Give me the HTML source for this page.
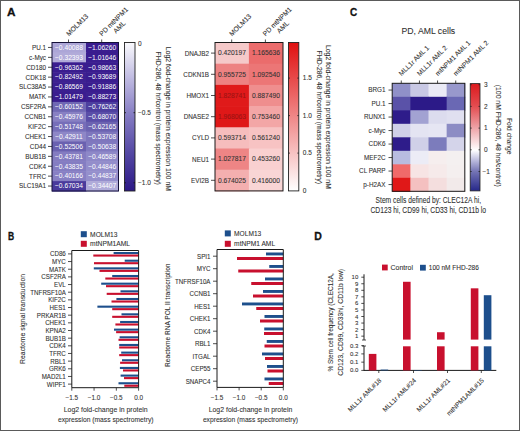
<!DOCTYPE html>
<html><head><meta charset="utf-8"><style>
html,body{margin:0;padding:0;background:#fff;}
body{width:520px;height:431px;overflow:hidden;font-family:"Liberation Sans", sans-serif;}
svg{display:block;}
</style></head><body>
<svg width="520" height="431" viewBox="0 0 520 431" font-family='"Liberation Sans", sans-serif'><rect x="0" y="0" width="520" height="431" fill="#fff"/><defs><linearGradient id="gA" x1="0" y1="0" x2="0" y2="1"><stop offset="0" stop-color="#fafafd"/><stop offset="0.25" stop-color="#bdb8e0"/><stop offset="0.5" stop-color="#8279c1"/><stop offset="0.75" stop-color="#5347a3"/><stop offset="1" stop-color="#2c1886"/></linearGradient><linearGradient id="gR" x1="0" y1="0" x2="0" y2="1"><stop offset="0" stop-color="#e01010"/><stop offset="1" stop-color="#ffffff"/></linearGradient><linearGradient id="gC" x1="0" y1="0" x2="0" y2="1"><stop offset="0" stop-color="#dc1a1e"/><stop offset="0.21" stop-color="#e34c50"/><stop offset="0.41" stop-color="#eea2a6"/><stop offset="0.62" stop-color="#ffffff"/><stop offset="0.72" stop-color="#b8b8dc"/><stop offset="0.82" stop-color="#7474b4"/><stop offset="1" stop-color="#26288a"/></linearGradient></defs><text transform="translate(7.1,16.4) rotate(0)" font-size="11" text-anchor="start" fill="#111" font-weight="bold" stroke="#111" stroke-width="0.3" textLength="8.5" lengthAdjust="spacingAndGlyphs">A</text><rect x="52.0" y="42.50" width="34.60" height="10.50" fill="#aca6d7"/><rect x="86.0" y="42.50" width="32.5" height="10.50" fill="#3a1d8f"/><text x="0" y="0" font-size="6.9" text-anchor="end" fill="#303030" stroke="#303030" stroke-width="0.08" font-weight="normal" transform="translate(46,49.85)  scale(0.92,1)">PU.1</text><line x1="48" y1="47.45" x2="52" y2="47.45" stroke="#222" stroke-width="0.8"/><text x="69.0" y="49.75" font-size="6.7" text-anchor="middle" fill="#fff" stroke="#fff" stroke-width="0" font-weight="normal">−0.40088</text><text x="102.25" y="49.75" font-size="6.7" text-anchor="middle" fill="#fff" stroke="#fff" stroke-width="0" font-weight="normal">−1.06260</text><rect x="52.0" y="52.40" width="34.60" height="10.50" fill="#b1abd9"/><rect x="86.0" y="52.40" width="32.5" height="10.50" fill="#3a1d8f"/><text x="0" y="0" font-size="6.9" text-anchor="end" fill="#303030" stroke="#303030" stroke-width="0.08" font-weight="normal" transform="translate(46,59.75)  scale(0.92,1)">c-Myc</text><line x1="48" y1="57.35" x2="52" y2="57.35" stroke="#222" stroke-width="0.8"/><text x="69.0" y="59.65" font-size="6.7" text-anchor="middle" fill="#fff" stroke="#fff" stroke-width="0" font-weight="normal">−0.32393</text><text x="102.25" y="59.65" font-size="6.7" text-anchor="middle" fill="#fff" stroke="#fff" stroke-width="0" font-weight="normal">−1.01646</text><rect x="52.0" y="62.30" width="34.60" height="10.50" fill="#3a1d8f"/><rect x="86.0" y="62.30" width="32.5" height="10.50" fill="#3a1d8f"/><text x="0" y="0" font-size="6.9" text-anchor="end" fill="#303030" stroke="#303030" stroke-width="0.08" font-weight="normal" transform="translate(46,69.65)  scale(0.92,1)">CD180</text><line x1="48" y1="67.25" x2="52" y2="67.25" stroke="#222" stroke-width="0.8"/><text x="69.0" y="69.55" font-size="6.7" text-anchor="middle" fill="#fff" stroke="#fff" stroke-width="0" font-weight="normal">−0.96362</text><text x="102.25" y="69.55" font-size="6.7" text-anchor="middle" fill="#fff" stroke="#fff" stroke-width="0" font-weight="normal">−0.98663</text><rect x="52.0" y="72.20" width="34.60" height="10.50" fill="#3d2191"/><rect x="86.0" y="72.20" width="32.5" height="10.50" fill="#3a1d8f"/><text x="0" y="0" font-size="6.9" text-anchor="end" fill="#303030" stroke="#303030" stroke-width="0.08" font-weight="normal" transform="translate(46,79.55000000000001)  scale(0.92,1)">CDK18</text><line x1="48" y1="77.15" x2="52" y2="77.15" stroke="#222" stroke-width="0.8"/><text x="69.0" y="79.45" font-size="6.7" text-anchor="middle" fill="#fff" stroke="#fff" stroke-width="0" font-weight="normal">−0.82492</text><text x="102.25" y="79.45" font-size="6.7" text-anchor="middle" fill="#fff" stroke="#fff" stroke-width="0" font-weight="normal">−0.93689</text><rect x="52.0" y="82.10" width="34.60" height="10.50" fill="#3b1f90"/><rect x="86.0" y="82.10" width="32.5" height="10.50" fill="#3a1d8f"/><text x="0" y="0" font-size="6.9" text-anchor="end" fill="#303030" stroke="#303030" stroke-width="0.08" font-weight="normal" transform="translate(46,89.45)  scale(0.92,1)">SLC38A5</text><line x1="48" y1="87.05" x2="52" y2="87.05" stroke="#222" stroke-width="0.8"/><text x="69.0" y="89.35" font-size="6.7" text-anchor="middle" fill="#fff" stroke="#fff" stroke-width="0" font-weight="normal">−0.86569</text><text x="102.25" y="89.35" font-size="6.7" text-anchor="middle" fill="#fff" stroke="#fff" stroke-width="0" font-weight="normal">−0.91886</text><rect x="52.0" y="92.00" width="34.60" height="10.50" fill="#3a1d8f"/><rect x="86.0" y="92.00" width="32.5" height="10.50" fill="#3d2191"/><text x="0" y="0" font-size="6.9" text-anchor="end" fill="#303030" stroke="#303030" stroke-width="0.08" font-weight="normal" transform="translate(46,99.35000000000001)  scale(0.92,1)">MATK</text><line x1="48" y1="96.95" x2="52" y2="96.95" stroke="#222" stroke-width="0.8"/><text x="69.0" y="99.25" font-size="6.7" text-anchor="middle" fill="#fff" stroke="#fff" stroke-width="0" font-weight="normal">−1.01479</text><text x="102.25" y="99.25" font-size="6.7" text-anchor="middle" fill="#fff" stroke="#fff" stroke-width="0" font-weight="normal">−0.88273</text><rect x="52.0" y="101.90" width="34.60" height="10.50" fill="#7068b4"/><rect x="86.0" y="101.90" width="32.5" height="10.50" fill="#4d3f9f"/><text x="0" y="0" font-size="6.9" text-anchor="end" fill="#303030" stroke="#303030" stroke-width="0.08" font-weight="normal" transform="translate(46,109.25000000000001)  scale(0.92,1)">CSF2RA</text><line x1="48" y1="106.85" x2="52" y2="106.85" stroke="#222" stroke-width="0.8"/><text x="69.0" y="109.15" font-size="6.7" text-anchor="middle" fill="#fff" stroke="#fff" stroke-width="0" font-weight="normal">−0.60152</text><text x="102.25" y="109.15" font-size="6.7" text-anchor="middle" fill="#fff" stroke="#fff" stroke-width="0" font-weight="normal">−0.76262</text><rect x="52.0" y="111.80" width="34.60" height="10.50" fill="#8880c3"/><rect x="86.0" y="111.80" width="32.5" height="10.50" fill="#5a4ea8"/><text x="0" y="0" font-size="6.9" text-anchor="end" fill="#303030" stroke="#303030" stroke-width="0.08" font-weight="normal" transform="translate(46,119.15)  scale(0.92,1)">CCNB1</text><line x1="48" y1="116.75" x2="52" y2="116.75" stroke="#222" stroke-width="0.8"/><text x="69.0" y="119.05" font-size="6.7" text-anchor="middle" fill="#fff" stroke="#fff" stroke-width="0" font-weight="normal">−0.45976</text><text x="102.25" y="119.05" font-size="6.7" text-anchor="middle" fill="#fff" stroke="#fff" stroke-width="0" font-weight="normal">−0.68070</text><rect x="52.0" y="121.70" width="34.60" height="10.50" fill="#766eb9"/><rect x="86.0" y="121.70" width="32.5" height="10.50" fill="#6c63b1"/><text x="0" y="0" font-size="6.9" text-anchor="end" fill="#303030" stroke="#303030" stroke-width="0.08" font-weight="normal" transform="translate(46,129.05)  scale(0.92,1)">KIF2C</text><line x1="48" y1="126.65" x2="52" y2="126.65" stroke="#222" stroke-width="0.8"/><text x="69.0" y="128.95000000000002" font-size="6.7" text-anchor="middle" fill="#fff" stroke="#fff" stroke-width="0" font-weight="normal">−0.51748</text><text x="102.25" y="128.95000000000002" font-size="6.7" text-anchor="middle" fill="#fff" stroke="#fff" stroke-width="0" font-weight="normal">−0.62165</text><rect x="52.0" y="131.60" width="34.60" height="10.50" fill="#8e87c7"/><rect x="86.0" y="131.60" width="32.5" height="10.50" fill="#7e76bd"/><text x="0" y="0" font-size="6.9" text-anchor="end" fill="#303030" stroke="#303030" stroke-width="0.08" font-weight="normal" transform="translate(46,138.95000000000002)  scale(0.92,1)">CHEK1</text><line x1="48" y1="136.55" x2="52" y2="136.55" stroke="#222" stroke-width="0.8"/><text x="69.0" y="138.85000000000002" font-size="6.7" text-anchor="middle" fill="#fff" stroke="#fff" stroke-width="0" font-weight="normal">−0.42911</text><text x="102.25" y="138.85000000000002" font-size="6.7" text-anchor="middle" fill="#fff" stroke="#fff" stroke-width="0" font-weight="normal">−0.53708</text><rect x="52.0" y="141.50" width="34.60" height="10.50" fill="#6a61b0"/><rect x="86.0" y="141.50" width="32.5" height="10.50" fill="#8079bf"/><text x="0" y="0" font-size="6.9" text-anchor="end" fill="#303030" stroke="#303030" stroke-width="0.08" font-weight="normal" transform="translate(46,148.85)  scale(0.92,1)">CD44</text><line x1="48" y1="146.45" x2="52" y2="146.45" stroke="#222" stroke-width="0.8"/><text x="69.0" y="148.75" font-size="6.7" text-anchor="middle" fill="#fff" stroke="#fff" stroke-width="0" font-weight="normal">−0.52506</text><text x="102.25" y="148.75" font-size="6.7" text-anchor="middle" fill="#fff" stroke="#fff" stroke-width="0" font-weight="normal">−0.50638</text><rect x="52.0" y="151.40" width="34.60" height="10.50" fill="#847cc1"/><rect x="86.0" y="151.40" width="32.5" height="10.50" fill="#8e88c8"/><text x="0" y="0" font-size="6.9" text-anchor="end" fill="#303030" stroke="#303030" stroke-width="0.08" font-weight="normal" transform="translate(46,158.75)  scale(0.92,1)">BUB1B</text><line x1="48" y1="156.35" x2="52" y2="156.35" stroke="#222" stroke-width="0.8"/><text x="69.0" y="158.65" font-size="6.7" text-anchor="middle" fill="#fff" stroke="#fff" stroke-width="0" font-weight="normal">−0.43781</text><text x="102.25" y="158.65" font-size="6.7" text-anchor="middle" fill="#fff" stroke="#fff" stroke-width="0" font-weight="normal">−0.46589</text><rect x="52.0" y="161.30" width="34.60" height="10.50" fill="#847dc2"/><rect x="86.0" y="161.30" width="32.5" height="10.50" fill="#938dcb"/><text x="0" y="0" font-size="6.9" text-anchor="end" fill="#303030" stroke="#303030" stroke-width="0.08" font-weight="normal" transform="translate(46,168.65)  scale(0.92,1)">CDK4</text><line x1="48" y1="166.25" x2="52" y2="166.25" stroke="#222" stroke-width="0.8"/><text x="69.0" y="168.55" font-size="6.7" text-anchor="middle" fill="#fff" stroke="#fff" stroke-width="0" font-weight="normal">−0.43835</text><text x="102.25" y="168.55" font-size="6.7" text-anchor="middle" fill="#fff" stroke="#fff" stroke-width="0" font-weight="normal">−0.44846</text><rect x="52.0" y="171.20" width="34.60" height="10.50" fill="#8880c4"/><rect x="86.0" y="171.20" width="32.5" height="10.50" fill="#958fcc"/><text x="0" y="0" font-size="6.9" text-anchor="end" fill="#303030" stroke="#303030" stroke-width="0.08" font-weight="normal" transform="translate(46,178.55)  scale(0.92,1)">TFRC</text><line x1="48" y1="176.15" x2="52" y2="176.15" stroke="#222" stroke-width="0.8"/><text x="69.0" y="178.45000000000002" font-size="6.7" text-anchor="middle" fill="#fff" stroke="#fff" stroke-width="0" font-weight="normal">−0.40166</text><text x="102.25" y="178.45000000000002" font-size="6.7" text-anchor="middle" fill="#fff" stroke="#fff" stroke-width="0" font-weight="normal">−0.44837</text><rect x="52.0" y="181.10" width="34.60" height="10.50" fill="#4a3a9c"/><rect x="86.0" y="181.10" width="32.5" height="10.50" fill="#b0abd9"/><text x="0" y="0" font-size="6.9" text-anchor="end" fill="#303030" stroke="#303030" stroke-width="0.08" font-weight="normal" transform="translate(46,188.45)  scale(0.92,1)">SLC19A1</text><line x1="48" y1="186.05" x2="52" y2="186.05" stroke="#222" stroke-width="0.8"/><text x="69.0" y="188.35" font-size="6.7" text-anchor="middle" fill="#fff" stroke="#fff" stroke-width="0" font-weight="normal">−0.67034</text><text x="102.25" y="188.35" font-size="6.7" text-anchor="middle" fill="#fff" stroke="#fff" stroke-width="0" font-weight="normal">−0.34407</text><rect x="52.0" y="42.5" width="66.5" height="148.5" fill="none" stroke="#15103a" stroke-width="1"/><line x1="68.5" y1="39.5" x2="68.5" y2="42.5" stroke="#222" stroke-width="0.8"/><line x1="101.7" y1="39.5" x2="101.7" y2="42.5" stroke="#222" stroke-width="0.8"/><text transform="translate(69.0,36.5) rotate(-45) scale(1.0,1)" font-size="6.8" text-anchor="start" fill="#303030" stroke="#303030" stroke-width="0.08">MOLM13</text><text transform="translate(102.0,36.5) rotate(-45) scale(1.0,1)" font-size="6.8" text-anchor="start" fill="#303030" stroke="#303030" stroke-width="0.08">PD mtNPM1</text><text transform="translate(116.0,33.8) rotate(-45) scale(1.0,1)" font-size="6.8" text-anchor="start" fill="#303030" stroke="#303030" stroke-width="0.08">AML</text><rect x="124.5" y="42.5" width="10.5" height="148.5" fill="url(#gA)" stroke="#222" stroke-width="0.9"/><text x="138.0" y="45.5" font-size="6.5" text-anchor="start" fill="#303030" stroke="#303030" stroke-width="0.08" font-weight="normal">0</text><text x="138.0" y="115.0" font-size="6.5" text-anchor="start" fill="#303030" stroke="#303030" stroke-width="0.08" font-weight="normal">−0.5</text><text x="138.0" y="185.1" font-size="6.5" text-anchor="start" fill="#303030" stroke="#303030" stroke-width="0.08" font-weight="normal">−1.0</text><line x1="124.5" y1="112.7" x2="126" y2="112.7" stroke="#111" stroke-width="0.8"/><line x1="133.5" y1="112.7" x2="135" y2="112.7" stroke="#111" stroke-width="0.8"/><line x1="124.5" y1="182.8" x2="126" y2="182.8" stroke="#111" stroke-width="0.8"/><line x1="133.5" y1="182.8" x2="135" y2="182.8" stroke="#111" stroke-width="0.8"/><text transform="translate(166.2,46.7) rotate(90)" font-size="7.5" text-anchor="start" fill="#303030" font-weight="normal" stroke="#303030" stroke-width="0.08" textLength="144.3" lengthAdjust="spacingAndGlyphs">Log2 fold-change in protein expression 100 nM</text><text transform="translate(156.1,51.6) rotate(90)" font-size="7.5" text-anchor="start" fill="#303030" font-weight="normal" stroke="#303030" stroke-width="0.08" textLength="133.3" lengthAdjust="spacingAndGlyphs">FHD-286, 48 hr/control (mass spectrometry)</text><rect x="215.0" y="42.50" width="34.50" height="21.80" fill="#f5c9c9"/><rect x="248.9" y="42.50" width="34.10" height="21.80" fill="#eb6c6c"/><text x="0" y="0" font-size="6.9" text-anchor="end" fill="#303030" stroke="#303030" stroke-width="0.08" font-weight="normal" transform="translate(209,55.5)  scale(0.92,1)">DNAJB2</text><line x1="211" y1="53.10" x2="215.0" y2="53.10" stroke="#222" stroke-width="0.8"/><text x="231.95" y="55.4" font-size="6.7" text-anchor="middle" fill="#333" stroke="#333" stroke-width="0.08" font-weight="normal">0.420197</text><text x="265.95" y="55.4" font-size="6.7" text-anchor="middle" fill="#333" stroke="#333" stroke-width="0.08" font-weight="normal">1.165636</text><rect x="215.0" y="63.70" width="34.50" height="21.80" fill="#ed8282"/><rect x="248.9" y="63.70" width="34.10" height="21.80" fill="#ec7676"/><text x="0" y="0" font-size="6.9" text-anchor="end" fill="#303030" stroke="#303030" stroke-width="0.08" font-weight="normal" transform="translate(209,76.7)  scale(0.92,1)">CDKN1B</text><line x1="211" y1="74.30" x2="215.0" y2="74.30" stroke="#222" stroke-width="0.8"/><text x="231.95" y="76.6" font-size="6.7" text-anchor="middle" fill="#333" stroke="#333" stroke-width="0.08" font-weight="normal">0.955725</text><text x="265.95" y="76.6" font-size="6.7" text-anchor="middle" fill="#333" stroke="#333" stroke-width="0.08" font-weight="normal">1.092540</text><rect x="215.0" y="84.90" width="34.50" height="21.80" fill="#e01a1a"/><rect x="248.9" y="84.90" width="34.10" height="21.80" fill="#ef8e8e"/><text x="0" y="0" font-size="6.9" text-anchor="end" fill="#303030" stroke="#303030" stroke-width="0.08" font-weight="normal" transform="translate(209,97.9)  scale(0.92,1)">HMOX1</text><line x1="211" y1="95.50" x2="215.0" y2="95.50" stroke="#222" stroke-width="0.8"/><text x="231.95" y="97.8" font-size="6.7" text-anchor="middle" fill="#9c1414" stroke="#9c1414" stroke-width="0.08" font-weight="normal">1.828741</text><text x="265.95" y="97.8" font-size="6.7" text-anchor="middle" fill="#333" stroke="#333" stroke-width="0.08" font-weight="normal">0.887490</text><rect x="215.0" y="106.10" width="34.50" height="21.80" fill="#df1818"/><rect x="248.9" y="106.10" width="34.10" height="21.80" fill="#f3a6a6"/><text x="0" y="0" font-size="6.9" text-anchor="end" fill="#303030" stroke="#303030" stroke-width="0.08" font-weight="normal" transform="translate(209,119.1)  scale(0.92,1)">DNASE2</text><line x1="211" y1="116.70" x2="215.0" y2="116.70" stroke="#222" stroke-width="0.8"/><text x="231.95" y="118.99999999999999" font-size="6.7" text-anchor="middle" fill="#9c1414" stroke="#9c1414" stroke-width="0.08" font-weight="normal">1.968063</text><text x="265.95" y="118.99999999999999" font-size="6.7" text-anchor="middle" fill="#333" stroke="#333" stroke-width="0.08" font-weight="normal">0.753460</text><rect x="215.0" y="127.30" width="34.50" height="21.80" fill="#f6bdbd"/><rect x="248.9" y="127.30" width="34.10" height="21.80" fill="#f7c3c3"/><text x="0" y="0" font-size="6.9" text-anchor="end" fill="#303030" stroke="#303030" stroke-width="0.08" font-weight="normal" transform="translate(209,140.3)  scale(0.92,1)">CYLD</text><line x1="211" y1="137.90" x2="215.0" y2="137.90" stroke="#222" stroke-width="0.8"/><text x="231.95" y="140.20000000000002" font-size="6.7" text-anchor="middle" fill="#333" stroke="#333" stroke-width="0.08" font-weight="normal">0.593714</text><text x="265.95" y="140.20000000000002" font-size="6.7" text-anchor="middle" fill="#333" stroke="#333" stroke-width="0.08" font-weight="normal">0.561240</text><rect x="215.0" y="148.50" width="34.50" height="21.80" fill="#ee8585"/><rect x="248.9" y="148.50" width="34.10" height="21.80" fill="#f9d0d0"/><text x="0" y="0" font-size="6.9" text-anchor="end" fill="#303030" stroke="#303030" stroke-width="0.08" font-weight="normal" transform="translate(209,161.5)  scale(0.92,1)">NEU1</text><line x1="211" y1="159.10" x2="215.0" y2="159.10" stroke="#222" stroke-width="0.8"/><text x="231.95" y="161.4" font-size="6.7" text-anchor="middle" fill="#333" stroke="#333" stroke-width="0.08" font-weight="normal">1.027817</text><text x="265.95" y="161.4" font-size="6.7" text-anchor="middle" fill="#333" stroke="#333" stroke-width="0.08" font-weight="normal">0.453260</text><rect x="215.0" y="169.70" width="34.50" height="21.80" fill="#f4afaf"/><rect x="248.9" y="169.70" width="34.10" height="21.80" fill="#f9d5d5"/><text x="0" y="0" font-size="6.9" text-anchor="end" fill="#303030" stroke="#303030" stroke-width="0.08" font-weight="normal" transform="translate(209,182.7)  scale(0.92,1)">EVI2B</text><line x1="211" y1="180.30" x2="215.0" y2="180.30" stroke="#222" stroke-width="0.8"/><text x="231.95" y="182.6" font-size="6.7" text-anchor="middle" fill="#333" stroke="#333" stroke-width="0.08" font-weight="normal">0.674025</text><text x="265.95" y="182.6" font-size="6.7" text-anchor="middle" fill="#333" stroke="#333" stroke-width="0.08" font-weight="normal">0.416000</text><rect x="215.0" y="42.5" width="68.00" height="148.40" fill="none" stroke="#1a1a1a" stroke-width="1"/><line x1="231.7" y1="39.5" x2="231.7" y2="42.5" stroke="#222" stroke-width="0.8"/><line x1="265.4" y1="39.5" x2="265.4" y2="42.5" stroke="#222" stroke-width="0.8"/><text transform="translate(232.0,36.5) rotate(-45) scale(1.0,1)" font-size="6.8" text-anchor="start" fill="#303030" stroke="#303030" stroke-width="0.08">MOLM13</text><text transform="translate(265.5,36.5) rotate(-45) scale(1.0,1)" font-size="6.8" text-anchor="start" fill="#303030" stroke="#303030" stroke-width="0.08">PD mtNPM1</text><text transform="translate(279.5,33.8) rotate(-45) scale(1.0,1)" font-size="6.8" text-anchor="start" fill="#303030" stroke="#303030" stroke-width="0.08">AML</text><rect x="288.5" y="42.5" width="10.3" height="148.40" fill="url(#gR)" stroke="#222" stroke-width="0.9"/><text x="302.8" y="80.39999999999999" font-size="6.5" text-anchor="start" fill="#303030" stroke="#303030" stroke-width="0.08" font-weight="normal">1.5</text><line x1="288.5" y1="78.10" x2="290" y2="78.10" stroke="#222" stroke-width="0.8"/><line x1="297.3" y1="78.10" x2="298.8" y2="78.10" stroke="#222" stroke-width="0.8"/><text x="302.8" y="117.89999999999999" font-size="6.5" text-anchor="start" fill="#303030" stroke="#303030" stroke-width="0.08" font-weight="normal">1.0</text><line x1="288.5" y1="115.60" x2="290" y2="115.60" stroke="#222" stroke-width="0.8"/><line x1="297.3" y1="115.60" x2="298.8" y2="115.60" stroke="#222" stroke-width="0.8"/><text x="302.8" y="155.4" font-size="6.5" text-anchor="start" fill="#303030" stroke="#303030" stroke-width="0.08" font-weight="normal">0.5</text><line x1="288.5" y1="153.10" x2="290" y2="153.10" stroke="#222" stroke-width="0.8"/><line x1="297.3" y1="153.10" x2="298.8" y2="153.10" stroke="#222" stroke-width="0.8"/><text x="302.8" y="192.9" font-size="6.5" text-anchor="start" fill="#303030" stroke="#303030" stroke-width="0.08" font-weight="normal">0</text><text transform="translate(326.3,44.9) rotate(90)" font-size="7.5" text-anchor="start" fill="#303030" font-weight="normal" stroke="#303030" stroke-width="0.08" textLength="144.0" lengthAdjust="spacingAndGlyphs">Log2 fold-change in protein expression 100 nM</text><text transform="translate(316.5,50.6) rotate(90)" font-size="7.5" text-anchor="start" fill="#303030" font-weight="normal" stroke="#303030" stroke-width="0.08" textLength="133.4" lengthAdjust="spacingAndGlyphs">FHD-286, 48 hr/control (mass spectrometry)</text><text transform="translate(350.0,16.4) rotate(0)" font-size="11" text-anchor="start" fill="#111" font-weight="bold" stroke="#111" stroke-width="0.3" textLength="7.2" lengthAdjust="spacingAndGlyphs">C</text><text transform="translate(401.5,33.8) rotate(0)" font-size="8.9" text-anchor="start" fill="#303030" font-weight="normal" stroke="#303030" stroke-width="0.08" textLength="53.7" lengthAdjust="spacingAndGlyphs">PD, AML cells</text><rect x="392.20" y="83.30" width="18.75" height="14.10" fill="#9090c8"/><rect x="410.35" y="83.30" width="18.75" height="14.10" fill="#c8c8e4"/><rect x="428.50" y="83.30" width="18.75" height="14.10" fill="#eaeaf5"/><rect x="446.65" y="83.30" width="18.75" height="14.10" fill="#9898cc"/><text x="0" y="0" font-size="6.9" text-anchor="end" fill="#303030" stroke="#303030" stroke-width="0.08" font-weight="normal" transform="translate(385.5,92.45)  scale(0.92,1)">BRG1</text><line x1="388.5" y1="90.05" x2="392.2" y2="90.05" stroke="#222" stroke-width="0.8"/><rect x="392.20" y="96.80" width="18.75" height="14.10" fill="#5a52a8"/><rect x="410.35" y="96.80" width="18.75" height="14.10" fill="#2c1a88"/><rect x="428.50" y="96.80" width="18.75" height="14.10" fill="#2c1a88"/><rect x="446.65" y="96.80" width="18.75" height="14.10" fill="#6a68b4"/><text x="0" y="0" font-size="6.9" text-anchor="end" fill="#303030" stroke="#303030" stroke-width="0.08" font-weight="normal" transform="translate(385.5,105.95)  scale(0.92,1)">PU.1</text><line x1="388.5" y1="103.55" x2="392.2" y2="103.55" stroke="#222" stroke-width="0.8"/><rect x="392.20" y="110.30" width="18.75" height="14.10" fill="#2e1c8a"/><rect x="410.35" y="110.30" width="18.75" height="14.10" fill="#a2a2d2"/><rect x="428.50" y="110.30" width="18.75" height="14.10" fill="#dcdcee"/><rect x="446.65" y="110.30" width="18.75" height="14.10" fill="#e0e0f0"/><text x="0" y="0" font-size="6.9" text-anchor="end" fill="#303030" stroke="#303030" stroke-width="0.08" font-weight="normal" transform="translate(385.5,119.45)  scale(0.92,1)">RUNX1</text><line x1="388.5" y1="117.05" x2="392.2" y2="117.05" stroke="#222" stroke-width="0.8"/><rect x="392.20" y="123.80" width="18.75" height="14.10" fill="#d0d0e8"/><rect x="410.35" y="123.80" width="18.75" height="14.10" fill="#e4e4f2"/><rect x="428.50" y="123.80" width="18.75" height="14.10" fill="#e6e6f3"/><rect x="446.65" y="123.80" width="18.75" height="14.10" fill="#8c8cc4"/><text x="0" y="0" font-size="6.9" text-anchor="end" fill="#303030" stroke="#303030" stroke-width="0.08" font-weight="normal" transform="translate(385.5,132.95000000000002)  scale(0.92,1)">c-Myc</text><line x1="388.5" y1="130.55" x2="392.2" y2="130.55" stroke="#222" stroke-width="0.8"/><rect x="392.20" y="137.30" width="18.75" height="14.10" fill="#2e1c8a"/><rect x="410.35" y="137.30" width="18.75" height="14.10" fill="#d0d0e8"/><rect x="428.50" y="137.30" width="18.75" height="14.10" fill="#7c7cbc"/><rect x="446.65" y="137.30" width="18.75" height="14.10" fill="#d4d4ea"/><text x="0" y="0" font-size="6.9" text-anchor="end" fill="#303030" stroke="#303030" stroke-width="0.08" font-weight="normal" transform="translate(385.5,146.45000000000002)  scale(0.92,1)">CDK6</text><line x1="388.5" y1="144.05" x2="392.2" y2="144.05" stroke="#222" stroke-width="0.8"/><rect x="392.20" y="150.80" width="18.75" height="14.10" fill="#b8bce0"/><rect x="410.35" y="150.80" width="18.75" height="14.10" fill="#ececf6"/><rect x="428.50" y="150.80" width="18.75" height="14.10" fill="#f6eeee"/><rect x="446.65" y="150.80" width="18.75" height="14.10" fill="#f4f0f0"/><text x="0" y="0" font-size="6.9" text-anchor="end" fill="#303030" stroke="#303030" stroke-width="0.08" font-weight="normal" transform="translate(385.5,159.95000000000002)  scale(0.92,1)">MEF2C</text><line x1="388.5" y1="157.55" x2="392.2" y2="157.55" stroke="#222" stroke-width="0.8"/><rect x="392.20" y="164.30" width="18.75" height="14.10" fill="#f06a6a"/><rect x="410.35" y="164.30" width="18.75" height="14.10" fill="#f7e4e4"/><rect x="428.50" y="164.30" width="18.75" height="14.10" fill="#f6eaea"/><rect x="446.65" y="164.30" width="18.75" height="14.10" fill="#f4efef"/><text x="0" y="0" font-size="6.9" text-anchor="end" fill="#303030" stroke="#303030" stroke-width="0.08" font-weight="normal" transform="translate(385.5,173.45000000000002)  scale(0.92,1)">CL PARP</text><line x1="388.5" y1="171.05" x2="392.2" y2="171.05" stroke="#222" stroke-width="0.8"/><rect x="392.20" y="177.80" width="18.75" height="14.10" fill="#e01818"/><rect x="410.35" y="177.80" width="18.75" height="14.10" fill="#f4c0c0"/><rect x="428.50" y="177.80" width="18.75" height="14.10" fill="#f4dede"/><rect x="446.65" y="177.80" width="18.75" height="14.10" fill="#f2eaea"/><text x="0" y="0" font-size="6.9" text-anchor="end" fill="#303030" stroke="#303030" stroke-width="0.08" font-weight="normal" transform="translate(385.5,186.95000000000002)  scale(0.92,1)">p-H2AX</text><line x1="388.5" y1="184.55" x2="392.2" y2="184.55" stroke="#222" stroke-width="0.8"/><rect x="392.2" y="83.3" width="72.60" height="108.00" fill="none" stroke="#1a1a1a" stroke-width="1"/><line x1="401.27" y1="80.5" x2="401.27" y2="83.3" stroke="#222" stroke-width="0.8"/><text transform="translate(401.575,76.3) rotate(-45) scale(1.0,1)" font-size="6.7" text-anchor="start" fill="#303030" stroke="#303030" stroke-width="0.08">MLL1r AML 1</text><line x1="419.43" y1="80.5" x2="419.43" y2="83.3" stroke="#222" stroke-width="0.8"/><text transform="translate(419.725,76.3) rotate(-45) scale(1.0,1)" font-size="6.7" text-anchor="start" fill="#303030" stroke="#303030" stroke-width="0.08">MLL1r AML 2</text><line x1="437.57" y1="80.5" x2="437.57" y2="83.3" stroke="#222" stroke-width="0.8"/><text transform="translate(437.875,76.3) rotate(-45) scale(1.0,1)" font-size="6.7" text-anchor="start" fill="#303030" stroke="#303030" stroke-width="0.08">mtNPM1 AML 1</text><line x1="455.72" y1="80.5" x2="455.72" y2="83.3" stroke="#222" stroke-width="0.8"/><text transform="translate(456.025,76.3) rotate(-45) scale(1.0,1)" font-size="6.7" text-anchor="start" fill="#303030" stroke="#303030" stroke-width="0.08">mtNPM1 AML 2</text><rect x="470.2" y="83.6" width="9.8" height="107.3" fill="url(#gC)" stroke="#222" stroke-width="0.8"/><line x1="478.5" y1="84.70" x2="480" y2="84.70" stroke="#222" stroke-width="0.8"/><line x1="470.2" y1="84.70" x2="471.7" y2="84.70" stroke="#222" stroke-width="0.8"/><text x="484.0" y="87.00000000000001" font-size="6.5" text-anchor="start" fill="#303030" stroke="#303030" stroke-width="0.08" font-weight="normal">3</text><line x1="478.5" y1="106.40" x2="480" y2="106.40" stroke="#222" stroke-width="0.8"/><line x1="470.2" y1="106.40" x2="471.7" y2="106.40" stroke="#222" stroke-width="0.8"/><text x="484.0" y="108.7" font-size="6.5" text-anchor="start" fill="#303030" stroke="#303030" stroke-width="0.08" font-weight="normal">2</text><line x1="478.5" y1="128.10" x2="480" y2="128.10" stroke="#222" stroke-width="0.8"/><line x1="470.2" y1="128.10" x2="471.7" y2="128.10" stroke="#222" stroke-width="0.8"/><text x="484.0" y="130.40000000000003" font-size="6.5" text-anchor="start" fill="#303030" stroke="#303030" stroke-width="0.08" font-weight="normal">1</text><line x1="478.5" y1="149.80" x2="480" y2="149.80" stroke="#222" stroke-width="0.8"/><line x1="470.2" y1="149.80" x2="471.7" y2="149.80" stroke="#222" stroke-width="0.8"/><text x="484.0" y="152.10000000000002" font-size="6.5" text-anchor="start" fill="#303030" stroke="#303030" stroke-width="0.08" font-weight="normal">0</text><line x1="478.5" y1="171.50" x2="480" y2="171.50" stroke="#222" stroke-width="0.8"/><line x1="470.2" y1="171.50" x2="471.7" y2="171.50" stroke="#222" stroke-width="0.8"/><text x="482.5" y="173.8" font-size="6.5" text-anchor="start" fill="#303030" stroke="#303030" stroke-width="0.08" font-weight="normal">−1</text><text transform="translate(506.5,117.9) rotate(90)" font-size="7.5" text-anchor="start" fill="#303030" font-weight="normal" stroke="#303030" stroke-width="0.08" textLength="36.5" lengthAdjust="spacingAndGlyphs">Fold change</text><text transform="translate(495.8,84.8) rotate(90)" font-size="7.5" text-anchor="start" fill="#303030" font-weight="normal" stroke="#303030" stroke-width="0.08" textLength="102.1" lengthAdjust="spacingAndGlyphs">(100 nM FHD-286, 48 hrs/control)</text><text transform="translate(375.6,202.5) rotate(0)" font-size="8.6" text-anchor="start" fill="#303030" font-weight="normal" stroke="#303030" stroke-width="0.08" textLength="105.4" lengthAdjust="spacingAndGlyphs">Stem cells defined by: CLEC12A hi,</text><text transform="translate(370.4,212.7) rotate(0)" font-size="8.6" text-anchor="start" fill="#303030" font-weight="normal" stroke="#303030" stroke-width="0.08" textLength="115.7" lengthAdjust="spacingAndGlyphs">CD123 hi, CD99 hi, CD33 hi, CD11b lo</text><text transform="translate(8.1,240.3) rotate(0)" font-size="11" text-anchor="start" fill="#111" font-weight="bold" stroke="#111" stroke-width="0.3" textLength="6.2" lengthAdjust="spacingAndGlyphs">B</text><rect x="80.8" y="231.2" width="6" height="6" fill="#1d4f8c"/><text transform="translate(90.1,236.5) rotate(0)" font-size="6.7" text-anchor="start" fill="#303030" font-weight="normal" stroke="#303030" stroke-width="0.08" textLength="27.4" lengthAdjust="spacingAndGlyphs">MOLM13</text><rect x="80.8" y="240.8" width="6" height="6" fill="#c8102e"/><text transform="translate(90.1,246.0) rotate(0)" font-size="6.7" text-anchor="start" fill="#303030" font-weight="normal" stroke="#303030" stroke-width="0.08" textLength="39.9" lengthAdjust="spacingAndGlyphs">mtNPM1AML</text><rect x="113.6" y="252.00" width="25.00" height="2.1" fill="#1d4f8c"/><rect x="93.3" y="254.50" width="45.30" height="2.1" fill="#c8102e"/><text x="0" y="0" font-size="6.9" text-anchor="end" fill="#303030" stroke="#303030" stroke-width="0.08" font-weight="normal" transform="translate(65.8,256.3)  scale(0.9,1)">CD86</text><line x1="68" y1="253.90" x2="71.8" y2="253.90" stroke="#222" stroke-width="0.8"/><rect x="124.7" y="259.66" width="13.90" height="2.1" fill="#1d4f8c"/><rect x="94" y="262.16" width="44.60" height="2.1" fill="#c8102e"/><text x="0" y="0" font-size="6.9" text-anchor="end" fill="#303030" stroke="#303030" stroke-width="0.08" font-weight="normal" transform="translate(65.8,263.96)  scale(0.9,1)">MYC</text><line x1="68" y1="261.56" x2="71.8" y2="261.56" stroke="#222" stroke-width="0.8"/><rect x="93.8" y="267.32" width="44.80" height="2.1" fill="#1d4f8c"/><rect x="99.5" y="269.82" width="39.10" height="2.1" fill="#c8102e"/><text x="0" y="0" font-size="6.9" text-anchor="end" fill="#303030" stroke="#303030" stroke-width="0.08" font-weight="normal" transform="translate(65.8,271.62)  scale(0.9,1)">MATK</text><line x1="68" y1="269.22" x2="71.8" y2="269.22" stroke="#222" stroke-width="0.8"/><rect x="112.2" y="274.98" width="26.40" height="2.1" fill="#1d4f8c"/><rect x="105.3" y="277.48" width="33.30" height="2.1" fill="#c8102e"/><text x="0" y="0" font-size="6.9" text-anchor="end" fill="#303030" stroke="#303030" stroke-width="0.08" font-weight="normal" transform="translate(65.8,279.28)  scale(0.9,1)">CSF2RA</text><line x1="68" y1="276.88" x2="71.8" y2="276.88" stroke="#222" stroke-width="0.8"/><rect x="101.2" y="282.64" width="37.40" height="2.1" fill="#1d4f8c"/><rect x="106" y="285.14" width="32.60" height="2.1" fill="#c8102e"/><text x="0" y="0" font-size="6.9" text-anchor="end" fill="#303030" stroke="#303030" stroke-width="0.08" font-weight="normal" transform="translate(65.8,286.94)  scale(0.9,1)">EVL</text><line x1="68" y1="284.54" x2="71.8" y2="284.54" stroke="#222" stroke-width="0.8"/><rect x="120.5" y="290.30" width="18.10" height="2.1" fill="#1d4f8c"/><rect x="106.7" y="292.80" width="31.90" height="2.1" fill="#c8102e"/><text x="0" y="0" font-size="6.9" text-anchor="end" fill="#303030" stroke="#303030" stroke-width="0.08" font-weight="normal" transform="translate(65.8,294.59999999999997)  scale(0.9,1)">TNFRSF10A</text><line x1="68" y1="292.20" x2="71.8" y2="292.20" stroke="#222" stroke-width="0.8"/><rect x="116.4" y="297.96" width="22.20" height="2.1" fill="#1d4f8c"/><rect x="111.5" y="300.46" width="27.10" height="2.1" fill="#c8102e"/><text x="0" y="0" font-size="6.9" text-anchor="end" fill="#303030" stroke="#303030" stroke-width="0.08" font-weight="normal" transform="translate(65.8,302.26)  scale(0.9,1)">KIF2C</text><line x1="68" y1="299.86" x2="71.8" y2="299.86" stroke="#222" stroke-width="0.8"/><rect x="97.4" y="305.62" width="41.20" height="2.1" fill="#1d4f8c"/><rect x="112.2" y="308.12" width="26.40" height="2.1" fill="#c8102e"/><text x="0" y="0" font-size="6.9" text-anchor="end" fill="#303030" stroke="#303030" stroke-width="0.08" font-weight="normal" transform="translate(65.8,309.91999999999996)  scale(0.9,1)">HES1</text><line x1="68" y1="307.52" x2="71.8" y2="307.52" stroke="#222" stroke-width="0.8"/><rect x="121.5" y="313.28" width="17.10" height="2.1" fill="#1d4f8c"/><rect x="112.2" y="315.78" width="26.40" height="2.1" fill="#c8102e"/><text x="0" y="0" font-size="6.9" text-anchor="end" fill="#303030" stroke="#303030" stroke-width="0.08" font-weight="normal" transform="translate(65.8,317.58)  scale(0.9,1)">PRKAR1B</text><line x1="68" y1="315.18" x2="71.8" y2="315.18" stroke="#222" stroke-width="0.8"/><rect x="120.1" y="320.94" width="18.50" height="2.1" fill="#1d4f8c"/><rect x="115.4" y="323.44" width="23.20" height="2.1" fill="#c8102e"/><text x="0" y="0" font-size="6.9" text-anchor="end" fill="#303030" stroke="#303030" stroke-width="0.08" font-weight="normal" transform="translate(65.8,325.24)  scale(0.9,1)">CHEK1</text><line x1="68" y1="322.84" x2="71.8" y2="322.84" stroke="#222" stroke-width="0.8"/><rect x="114" y="328.60" width="24.60" height="2.1" fill="#1d4f8c"/><rect x="116.1" y="331.10" width="22.50" height="2.1" fill="#c8102e"/><text x="0" y="0" font-size="6.9" text-anchor="end" fill="#303030" stroke="#303030" stroke-width="0.08" font-weight="normal" transform="translate(65.8,332.9)  scale(0.9,1)">KPNA2</text><line x1="68" y1="330.50" x2="71.8" y2="330.50" stroke="#222" stroke-width="0.8"/><rect x="119.6" y="336.26" width="19.00" height="2.1" fill="#1d4f8c"/><rect x="118.5" y="338.76" width="20.10" height="2.1" fill="#c8102e"/><text x="0" y="0" font-size="6.9" text-anchor="end" fill="#303030" stroke="#303030" stroke-width="0.08" font-weight="normal" transform="translate(65.8,340.56)  scale(0.9,1)">BUB1B</text><line x1="68" y1="338.16" x2="71.8" y2="338.16" stroke="#222" stroke-width="0.8"/><rect x="119.2" y="343.92" width="19.40" height="2.1" fill="#1d4f8c"/><rect x="119.2" y="346.42" width="19.40" height="2.1" fill="#c8102e"/><text x="0" y="0" font-size="6.9" text-anchor="end" fill="#303030" stroke="#303030" stroke-width="0.08" font-weight="normal" transform="translate(65.8,348.21999999999997)  scale(0.9,1)">CDK4</text><line x1="68" y1="345.82" x2="71.8" y2="345.82" stroke="#222" stroke-width="0.8"/><rect x="121.2" y="351.58" width="17.40" height="2.1" fill="#1d4f8c"/><rect x="119.2" y="354.08" width="19.40" height="2.1" fill="#c8102e"/><text x="0" y="0" font-size="6.9" text-anchor="end" fill="#303030" stroke="#303030" stroke-width="0.08" font-weight="normal" transform="translate(65.8,355.88)  scale(0.9,1)">TFRC</text><line x1="68" y1="353.48" x2="71.8" y2="353.48" stroke="#222" stroke-width="0.8"/><rect x="122" y="359.24" width="16.60" height="2.1" fill="#1d4f8c"/><rect x="120.1" y="361.74" width="18.50" height="2.1" fill="#c8102e"/><text x="0" y="0" font-size="6.9" text-anchor="end" fill="#303030" stroke="#303030" stroke-width="0.08" font-weight="normal" transform="translate(65.8,363.53999999999996)  scale(0.9,1)">RBL1</text><line x1="68" y1="361.14" x2="71.8" y2="361.14" stroke="#222" stroke-width="0.8"/><rect x="119.9" y="366.90" width="18.70" height="2.1" fill="#1d4f8c"/><rect x="123" y="369.40" width="15.60" height="2.1" fill="#c8102e"/><text x="0" y="0" font-size="6.9" text-anchor="end" fill="#303030" stroke="#303030" stroke-width="0.08" font-weight="normal" transform="translate(65.8,371.2)  scale(0.9,1)">GRK6</text><line x1="68" y1="368.80" x2="71.8" y2="368.80" stroke="#222" stroke-width="0.8"/><rect x="120.6" y="374.56" width="18.00" height="2.1" fill="#1d4f8c"/><rect x="124" y="377.06" width="14.60" height="2.1" fill="#c8102e"/><text x="0" y="0" font-size="6.9" text-anchor="end" fill="#303030" stroke="#303030" stroke-width="0.08" font-weight="normal" transform="translate(65.8,378.86)  scale(0.9,1)">MAD2L1</text><line x1="68" y1="376.46" x2="71.8" y2="376.46" stroke="#222" stroke-width="0.8"/><rect x="118.5" y="382.22" width="20.10" height="2.1" fill="#1d4f8c"/><rect x="124.3" y="384.72" width="14.30" height="2.1" fill="#c8102e"/><text x="0" y="0" font-size="6.9" text-anchor="end" fill="#303030" stroke="#303030" stroke-width="0.08" font-weight="normal" transform="translate(65.8,386.52)  scale(0.9,1)">WIPF1</text><line x1="68" y1="384.12" x2="71.8" y2="384.12" stroke="#222" stroke-width="0.8"/><path d="M71.8,250.5 H138.6 V387.7 M71.8,250.5 V387.7 H138.6" fill="none" stroke="#1a1a1a" stroke-width="1"/><line x1="71.80" y1="387.7" x2="71.80" y2="390.7" stroke="#222" stroke-width="0.8"/><text x="71.8" y="399.6" font-size="6.4" text-anchor="middle" fill="#303030" stroke="#303030" stroke-width="0.08" font-weight="normal">−1.5</text><line x1="94.07" y1="387.7" x2="94.07" y2="390.7" stroke="#222" stroke-width="0.8"/><text x="94.06666666666666" y="399.6" font-size="6.4" text-anchor="middle" fill="#303030" stroke="#303030" stroke-width="0.08" font-weight="normal">−1.0</text><line x1="116.33" y1="387.7" x2="116.33" y2="390.7" stroke="#222" stroke-width="0.8"/><text x="116.33333333333333" y="399.6" font-size="6.4" text-anchor="middle" fill="#303030" stroke="#303030" stroke-width="0.08" font-weight="normal">−0.5</text><line x1="138.60" y1="387.7" x2="138.60" y2="390.7" stroke="#222" stroke-width="0.8"/><text x="138.6" y="399.6" font-size="6.4" text-anchor="middle" fill="#303030" stroke="#303030" stroke-width="0.08" font-weight="normal">0.0</text><text transform="translate(63.7,411.6) rotate(0)" font-size="8" text-anchor="start" fill="#303030" font-weight="normal" stroke="#303030" stroke-width="0.08" textLength="84" lengthAdjust="spacingAndGlyphs">Log2 fold-change in protein</text><text transform="translate(57.9,421.6) rotate(0)" font-size="8" text-anchor="start" fill="#303030" font-weight="normal" stroke="#303030" stroke-width="0.08" textLength="95.6" lengthAdjust="spacingAndGlyphs">expression (mass spectrometry)</text><text transform="translate(25.2,363.9) rotate(-90)" font-size="7.8" text-anchor="start" fill="#303030" font-weight="normal" stroke="#303030" stroke-width="0.08" textLength="90" lengthAdjust="spacingAndGlyphs">Reactome signal transduction</text><rect x="224.8" y="230.4" width="6" height="6" fill="#1d4f8c"/><text transform="translate(234.1,235.9) rotate(0)" font-size="6.7" text-anchor="start" fill="#303030" font-weight="normal" stroke="#303030" stroke-width="0.08" textLength="27.2" lengthAdjust="spacingAndGlyphs">MOLM13</text><rect x="224.8" y="240.8" width="6" height="6" fill="#c8102e"/><text transform="translate(234.1,245.8) rotate(0)" font-size="6.7" text-anchor="start" fill="#303030" font-weight="normal" stroke="#303030" stroke-width="0.08" textLength="41" lengthAdjust="spacingAndGlyphs">mtNPM1 AML</text><rect x="266" y="252.50" width="17.30" height="2.9" fill="#1d4f8c"/><rect x="237" y="257.00" width="46.30" height="3.0" fill="#c8102e"/><text x="0" y="0" font-size="6.9" text-anchor="end" fill="#303030" stroke="#303030" stroke-width="0.08" font-weight="normal" transform="translate(210.5,258.59999999999997)  scale(0.9,1)">SPI1</text><line x1="213" y1="256.20" x2="217.0" y2="256.20" stroke="#222" stroke-width="0.8"/><rect x="269.25" y="265.00" width="14.05" height="2.9" fill="#1d4f8c"/><rect x="238.25" y="269.50" width="45.05" height="3.0" fill="#c8102e"/><text x="0" y="0" font-size="6.9" text-anchor="end" fill="#303030" stroke="#303030" stroke-width="0.08" font-weight="normal" transform="translate(210.5,271.09999999999997)  scale(0.9,1)">MYC</text><line x1="213" y1="268.70" x2="217.0" y2="268.70" stroke="#222" stroke-width="0.8"/><rect x="265" y="277.50" width="18.30" height="2.9" fill="#1d4f8c"/><rect x="251.25" y="282.00" width="32.05" height="3.0" fill="#c8102e"/><text x="0" y="0" font-size="6.9" text-anchor="end" fill="#303030" stroke="#303030" stroke-width="0.08" font-weight="normal" transform="translate(210.5,283.59999999999997)  scale(0.9,1)">TNFRSF10A</text><line x1="213" y1="281.20" x2="217.0" y2="281.20" stroke="#222" stroke-width="0.8"/><rect x="263" y="290.00" width="20.30" height="2.9" fill="#1d4f8c"/><rect x="253" y="294.50" width="30.30" height="3.0" fill="#c8102e"/><text x="0" y="0" font-size="6.9" text-anchor="end" fill="#303030" stroke="#303030" stroke-width="0.08" font-weight="normal" transform="translate(210.5,296.09999999999997)  scale(0.9,1)">CCNB1</text><line x1="213" y1="293.70" x2="217.0" y2="293.70" stroke="#222" stroke-width="0.8"/><rect x="242" y="302.50" width="41.30" height="2.9" fill="#1d4f8c"/><rect x="256.25" y="307.00" width="27.05" height="3.0" fill="#c8102e"/><text x="0" y="0" font-size="6.9" text-anchor="end" fill="#303030" stroke="#303030" stroke-width="0.08" font-weight="normal" transform="translate(210.5,308.59999999999997)  scale(0.9,1)">HES1</text><line x1="213" y1="306.20" x2="217.0" y2="306.20" stroke="#222" stroke-width="0.8"/><rect x="264.5" y="315.00" width="18.80" height="2.9" fill="#1d4f8c"/><rect x="260" y="319.50" width="23.30" height="3.0" fill="#c8102e"/><text x="0" y="0" font-size="6.9" text-anchor="end" fill="#303030" stroke="#303030" stroke-width="0.08" font-weight="normal" transform="translate(210.5,321.09999999999997)  scale(0.9,1)">CHEK1</text><line x1="213" y1="318.70" x2="217.0" y2="318.70" stroke="#222" stroke-width="0.8"/><rect x="264.25" y="327.50" width="19.05" height="2.9" fill="#1d4f8c"/><rect x="264" y="332.00" width="19.30" height="3.0" fill="#c8102e"/><text x="0" y="0" font-size="6.9" text-anchor="end" fill="#303030" stroke="#303030" stroke-width="0.08" font-weight="normal" transform="translate(210.5,333.59999999999997)  scale(0.9,1)">CDK4</text><line x1="213" y1="331.20" x2="217.0" y2="331.20" stroke="#222" stroke-width="0.8"/><rect x="266.75" y="340.00" width="16.55" height="2.9" fill="#1d4f8c"/><rect x="264.5" y="344.50" width="18.80" height="3.0" fill="#c8102e"/><text x="0" y="0" font-size="6.9" text-anchor="end" fill="#303030" stroke="#303030" stroke-width="0.08" font-weight="normal" transform="translate(210.5,346.09999999999997)  scale(0.9,1)">RBL1</text><line x1="213" y1="343.70" x2="217.0" y2="343.70" stroke="#222" stroke-width="0.8"/><rect x="262" y="352.50" width="21.30" height="2.9" fill="#1d4f8c"/><rect x="265" y="357.00" width="18.30" height="3.0" fill="#c8102e"/><text x="0" y="0" font-size="6.9" text-anchor="end" fill="#303030" stroke="#303030" stroke-width="0.08" font-weight="normal" transform="translate(210.5,358.59999999999997)  scale(0.9,1)">ITGAL</text><line x1="213" y1="356.20" x2="217.0" y2="356.20" stroke="#222" stroke-width="0.8"/><rect x="267" y="365.00" width="16.30" height="2.9" fill="#1d4f8c"/><rect x="267.5" y="369.50" width="15.80" height="3.0" fill="#c8102e"/><text x="0" y="0" font-size="6.9" text-anchor="end" fill="#303030" stroke="#303030" stroke-width="0.08" font-weight="normal" transform="translate(210.5,371.09999999999997)  scale(0.9,1)">CEP55</text><line x1="213" y1="368.70" x2="217.0" y2="368.70" stroke="#222" stroke-width="0.8"/><rect x="264.5" y="377.50" width="18.80" height="2.9" fill="#1d4f8c"/><rect x="268.75" y="382.00" width="14.55" height="3.0" fill="#c8102e"/><text x="0" y="0" font-size="6.9" text-anchor="end" fill="#303030" stroke="#303030" stroke-width="0.08" font-weight="normal" transform="translate(210.5,383.59999999999997)  scale(0.9,1)">SNAPC4</text><line x1="213" y1="381.20" x2="217.0" y2="381.20" stroke="#222" stroke-width="0.8"/><path d="M217.0,249.5 H283.3 V387.4 M217.0,249.5 V387.4 H283.3" fill="none" stroke="#1a1a1a" stroke-width="1"/><line x1="217.00" y1="387.4" x2="217.00" y2="390.4" stroke="#222" stroke-width="0.8"/><text x="217.0" y="399.6" font-size="6.4" text-anchor="middle" fill="#303030" stroke="#303030" stroke-width="0.08" font-weight="normal">−1.5</text><line x1="239.10" y1="387.4" x2="239.10" y2="390.4" stroke="#222" stroke-width="0.8"/><text x="239.1" y="399.6" font-size="6.4" text-anchor="middle" fill="#303030" stroke="#303030" stroke-width="0.08" font-weight="normal">−1.0</text><line x1="261.20" y1="387.4" x2="261.20" y2="390.4" stroke="#222" stroke-width="0.8"/><text x="261.2" y="399.6" font-size="6.4" text-anchor="middle" fill="#303030" stroke="#303030" stroke-width="0.08" font-weight="normal">−0.5</text><line x1="283.30" y1="387.4" x2="283.30" y2="390.4" stroke="#222" stroke-width="0.8"/><text x="283.3" y="399.6" font-size="6.4" text-anchor="middle" fill="#303030" stroke="#303030" stroke-width="0.08" font-weight="normal">0.0</text><text transform="translate(208.7,411.6) rotate(0)" font-size="8" text-anchor="start" fill="#303030" font-weight="normal" stroke="#303030" stroke-width="0.08" textLength="83.6" lengthAdjust="spacingAndGlyphs">Log2 fold-change in protein</text><text transform="translate(202.9,421.6) rotate(0)" font-size="8" text-anchor="start" fill="#303030" font-weight="normal" stroke="#303030" stroke-width="0.08" textLength="95.1" lengthAdjust="spacingAndGlyphs">expression (mass spectrometry)</text><text transform="translate(170.2,366.9) rotate(-90)" font-size="7.8" text-anchor="start" fill="#303030" font-weight="normal" stroke="#303030" stroke-width="0.08" textLength="103.4" lengthAdjust="spacingAndGlyphs">Reactome RNA POL II transcription</text><text transform="translate(314.3,240.3) rotate(0)" font-size="11" text-anchor="start" fill="#111" font-weight="bold" stroke="#111" stroke-width="0.3" textLength="7.6" lengthAdjust="spacingAndGlyphs">D</text><rect x="382" y="264.6" width="5.7" height="5.8" fill="#c8102e"/><text transform="translate(390.5,269.9) rotate(0)" font-size="6.7" text-anchor="start" fill="#303030" font-weight="normal" stroke="#303030" stroke-width="0.08" textLength="22.5" lengthAdjust="spacingAndGlyphs">Control</text><rect x="420" y="264.8" width="5.8" height="5.8" fill="#1d4f8c"/><text transform="translate(428.8,269.9) rotate(0)" font-size="6.7" text-anchor="start" fill="#303030" font-weight="normal" stroke="#303030" stroke-width="0.08" textLength="50" lengthAdjust="spacingAndGlyphs">100 nM FHD-286</text><line x1="364.0" y1="274.3" x2="364.0" y2="340.0" stroke="#1a1a1a" stroke-width="1"/><line x1="364.0" y1="346.0" x2="364.0" y2="370.9" stroke="#1a1a1a" stroke-width="1"/><line x1="361.3" y1="336.15" x2="364.0" y2="336.15" stroke="#222" stroke-width="0.8"/><text x="358.3" y="338.15" font-size="6.0" text-anchor="end" fill="#303030" stroke="#303030" stroke-width="0.08" font-weight="normal">1</text><line x1="361.3" y1="329.60" x2="364.0" y2="329.60" stroke="#222" stroke-width="0.8"/><text x="358.3" y="331.59999999999997" font-size="6.0" text-anchor="end" fill="#303030" stroke="#303030" stroke-width="0.08" font-weight="normal">2</text><line x1="361.3" y1="323.05" x2="364.0" y2="323.05" stroke="#222" stroke-width="0.8"/><text x="358.3" y="325.05" font-size="6.0" text-anchor="end" fill="#303030" stroke="#303030" stroke-width="0.08" font-weight="normal">3</text><line x1="361.3" y1="316.50" x2="364.0" y2="316.50" stroke="#222" stroke-width="0.8"/><text x="358.3" y="318.5" font-size="6.0" text-anchor="end" fill="#303030" stroke="#303030" stroke-width="0.08" font-weight="normal">4</text><line x1="361.3" y1="309.95" x2="364.0" y2="309.95" stroke="#222" stroke-width="0.8"/><text x="358.3" y="311.95" font-size="6.0" text-anchor="end" fill="#303030" stroke="#303030" stroke-width="0.08" font-weight="normal">5</text><line x1="361.3" y1="303.40" x2="364.0" y2="303.40" stroke="#222" stroke-width="0.8"/><text x="358.3" y="305.4" font-size="6.0" text-anchor="end" fill="#303030" stroke="#303030" stroke-width="0.08" font-weight="normal">6</text><line x1="361.3" y1="296.85" x2="364.0" y2="296.85" stroke="#222" stroke-width="0.8"/><text x="358.3" y="298.84999999999997" font-size="6.0" text-anchor="end" fill="#303030" stroke="#303030" stroke-width="0.08" font-weight="normal">7</text><line x1="361.3" y1="290.30" x2="364.0" y2="290.30" stroke="#222" stroke-width="0.8"/><text x="358.3" y="292.3" font-size="6.0" text-anchor="end" fill="#303030" stroke="#303030" stroke-width="0.08" font-weight="normal">8</text><line x1="361.3" y1="283.75" x2="364.0" y2="283.75" stroke="#222" stroke-width="0.8"/><text x="358.3" y="285.75" font-size="6.0" text-anchor="end" fill="#303030" stroke="#303030" stroke-width="0.08" font-weight="normal">9</text><line x1="361.3" y1="277.20" x2="364.0" y2="277.20" stroke="#222" stroke-width="0.8"/><text x="358.3" y="279.2" font-size="6.0" text-anchor="end" fill="#303030" stroke="#303030" stroke-width="0.08" font-weight="normal">10</text><line x1="361.3" y1="370.40" x2="364.0" y2="370.40" stroke="#222" stroke-width="0.8"/><text x="358.3" y="372.4" font-size="6.0" text-anchor="end" fill="#303030" stroke="#303030" stroke-width="0.08" font-weight="normal">0.0</text><line x1="361.3" y1="362.15" x2="364.0" y2="362.15" stroke="#222" stroke-width="0.8"/><text x="358.3" y="364.15" font-size="6.0" text-anchor="end" fill="#303030" stroke="#303030" stroke-width="0.08" font-weight="normal">0.1</text><line x1="361.3" y1="353.90" x2="364.0" y2="353.90" stroke="#222" stroke-width="0.8"/><text x="358.3" y="355.9" font-size="6.0" text-anchor="end" fill="#303030" stroke="#303030" stroke-width="0.08" font-weight="normal">0.2</text><line x1="361.3" y1="345.65" x2="364.0" y2="345.65" stroke="#222" stroke-width="0.8"/><text x="358.3" y="347.65" font-size="6.0" text-anchor="end" fill="#303030" stroke="#303030" stroke-width="0.08" font-weight="normal">0.3</text><line x1="362" y1="340.0" x2="366" y2="340.0" stroke="#222" stroke-width="0.8"/><line x1="362" y1="346.0" x2="366" y2="346.0" stroke="#222" stroke-width="0.8"/><line x1="364.0" y1="370.4" x2="496.3" y2="370.4" stroke="#1a1a1a" stroke-width="1"/><rect x="368.8" y="353.90" width="7.6" height="16.50" fill="#c8102e"/><rect x="380.6" y="369.57" width="7.6" height="0.82" fill="#1d4f8c"/><rect x="403.0" y="346.3" width="7.6" height="24.1" fill="#c8102e"/><rect x="403.0" y="281.78" width="7.6" height="57.82" fill="#c8102e"/><rect x="414.2" y="369.99" width="7.6" height="0.41" fill="#1d4f8c"/><rect x="437.0" y="346.3" width="7.6" height="24.1" fill="#c8102e"/><rect x="437.0" y="332.22" width="7.6" height="7.38" fill="#c8102e"/><rect x="470.8" y="346.3" width="7.6" height="24.1" fill="#c8102e"/><rect x="470.8" y="288.33" width="7.6" height="51.27" fill="#c8102e"/><rect x="483.8" y="346.3" width="7.6" height="24.1" fill="#1d4f8c"/><rect x="483.8" y="295.21" width="7.6" height="44.39" fill="#1d4f8c"/><line x1="378.8" y1="370.4" x2="378.8" y2="373" stroke="#222" stroke-width="0.8"/><text transform="translate(381.8,381.0) rotate(-45) scale(1.0,1)" font-size="6.5" text-anchor="end" fill="#303030" stroke="#303030" stroke-width="0.08">MLL1r AML#18</text><line x1="413.5" y1="370.4" x2="413.5" y2="373" stroke="#222" stroke-width="0.8"/><text transform="translate(416.5,381.0) rotate(-45) scale(1.0,1)" font-size="6.5" text-anchor="end" fill="#303030" stroke="#303030" stroke-width="0.08">MLL1r AML#24</text><line x1="447.5" y1="370.4" x2="447.5" y2="373" stroke="#222" stroke-width="0.8"/><text transform="translate(450.5,381.0) rotate(-45) scale(1.0,1)" font-size="6.5" text-anchor="end" fill="#303030" stroke="#303030" stroke-width="0.08">MLL1r AML#21</text><line x1="481.3" y1="370.4" x2="481.3" y2="373" stroke="#222" stroke-width="0.8"/><text transform="translate(484.3,381.0) rotate(-45) scale(1.0,1)" font-size="6.5" text-anchor="end" fill="#303030" stroke="#303030" stroke-width="0.08">mtNPM1AML#15</text><text transform="translate(333.2,371.6) rotate(-90)" font-size="7.8" text-anchor="start" fill="#303030" font-weight="normal" stroke="#303030" stroke-width="0.08" textLength="98.5" lengthAdjust="spacingAndGlyphs">% Stem cell frequency (CLEC12A,</text><text transform="translate(343.4,375.7) rotate(-90)" font-size="7.8" text-anchor="start" fill="#303030" font-weight="normal" stroke="#303030" stroke-width="0.08" textLength="106.8" lengthAdjust="spacingAndGlyphs">CD123, CD99, CD33hi, CD11b low)</text><rect x="0.5" y="0.5" width="519" height="430" fill="none" stroke="#5a5a5a" stroke-width="1"/></svg>
</body></html>
